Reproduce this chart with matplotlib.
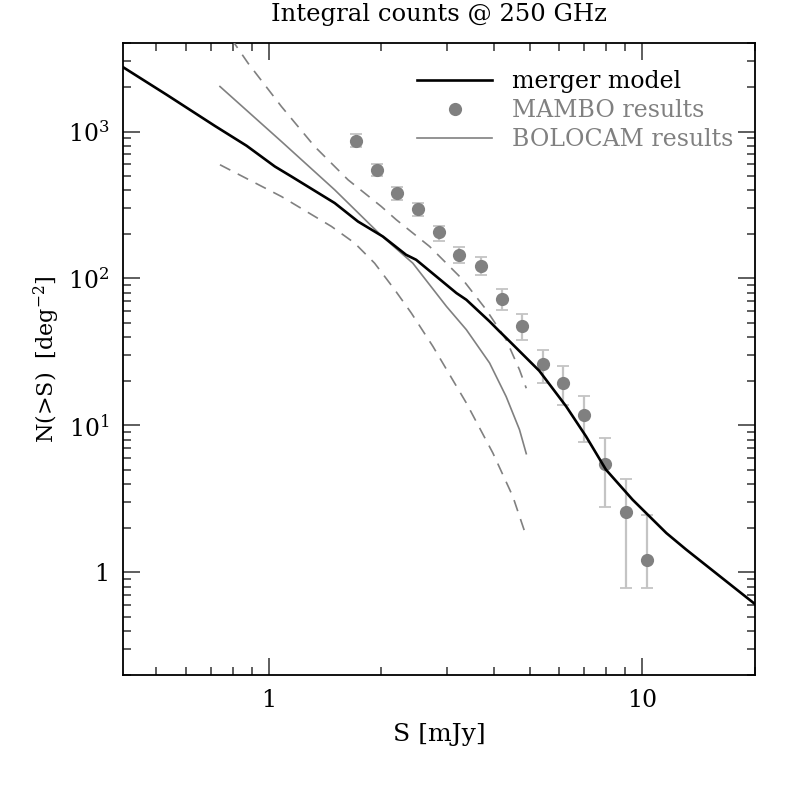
import math
import matplotlib
matplotlib.use("Agg")
import matplotlib.pyplot as plt
from matplotlib.ticker import FixedLocator, LogLocator, NullFormatter, FuncFormatter

plt.rcParams['font.family'] = 'DejaVu Serif'
plt.rcParams['mathtext.fontset'] = 'dejavuserif'

# merger model (black curve)
model_s = [0.407, 0.533, 0.717, 0.872, 1.038, 1.15, 1.501, 1.733, 2.02, 2.33, 2.48,
           3.18, 3.38, 3.90, 4.15, 4.32, 5.30, 6.25, 7.07, 7.99, 9.42, 11.6, 13.1, 20.0]
model_n = [2742, 1778, 1092, 800, 578, 494, 326, 244, 193, 145, 134,
           79.5, 71.6, 51, 43.5, 39.4, 23.5, 13.5, 8.41, 5.0, 3.12, 1.85, 1.43, 0.61]

# MAMBO points with error bars
mambo_s = [1.71, 1.95, 2.21, 2.51, 2.85, 3.24, 3.69, 4.20, 4.77, 5.43, 6.15, 7.0, 7.95, 9.04, 10.3]
mambo_n = [868, 549, 379, 297, 206, 145, 121, 72.8, 47.5, 26.0, 19.4, 11.8, 5.49, 2.56, 1.22]
mambo_hi = [965, 603, 422, 324, 227, 163, 140, 85.1, 57.3, 32.7, 25.2, 15.9, 8.2, 4.34, 2.44]
mambo_lo = [787, 497, 341, 267, 180, 127, 106, 61.0, 38.3, 19.4, 13.8, 7.71, 2.77, 0.78, 0.78]

# BOLOCAM best fit and its bounds
bolo_s = [0.74, 1.081, 1.501, 2.0, 2.43, 2.99, 3.38, 3.90, 4.32, 4.69, 4.89]
bolo_n = [2024, 855, 401, 196, 127, 64.5, 44.8, 26.6, 15.7, 9.35, 6.42]
bolo_up_s = [0.74, 0.803, 0.880, 1.081, 1.327, 1.630, 2.0, 2.194, 2.695, 3.308, 3.82, 4.32, 4.69, 4.89]
bolo_up_n = [5600, 4093, 2917, 1479, 790, 469, 309, 251, 165, 98, 61.3, 38.3, 23.9, 17.9]
bolo_lo_s = [0.74, 1.081, 1.471, 1.698, 1.920, 2.173, 2.407, 2.75, 3.38, 3.98, 4.50, 4.84]
bolo_lo_n = [594, 361, 226, 174, 127, 83.8, 58.2, 34.5, 14.2, 6.49, 3.29, 1.90]

fig = plt.figure(figsize=(7.97, 7.97), dpi=100)
ax = fig.add_axes([0.1543, 0.153, 0.7927, 0.793])

grey = '#808080'
ax.plot(model_s, model_n, color='black', lw=1.9, label='merger model', zorder=4)

yerr = [[n - lo for n, lo in zip(mambo_n, mambo_lo)],
        [hi - n for n, hi in zip(mambo_n, mambo_hi)]]
ax.errorbar(mambo_s, mambo_n, yerr=yerr, fmt='none', ecolor='#c4c4c4',
            elinewidth=1.6, capsize=4.3, capthick=1.3, zorder=2)
ax.plot(mambo_s, mambo_n, 'o', color=grey, ms=9.5, mec='none',
        label='MAMBO results', zorder=3)

ax.plot(bolo_s, bolo_n, color=grey, lw=1.2, label='BOLOCAM results', zorder=3)
ax.plot(bolo_up_s, bolo_up_n, color=grey, lw=1.2, dashes=(7, 5), zorder=3)
ax.plot(bolo_lo_s, bolo_lo_n, color=grey, lw=1.2, dashes=(7, 5), zorder=3)

ax.set_xscale('log')
ax.set_yscale('log')
ax.set_xlim(0.407, 20)
ax.set_ylim(0.2, 4000)

ax.xaxis.set_major_locator(FixedLocator([1, 10]))
ax.xaxis.set_major_formatter(FuncFormatter(lambda v, p: f"{v:g}"))
ax.xaxis.set_minor_locator(LogLocator(base=10, subs=range(2, 10)))
ax.xaxis.set_minor_formatter(NullFormatter())


def ylab(v, p):
    if v == 1:
        return "1"
    return r"$10^{%d}$" % int(round(math.log10(v)))


ax.yaxis.set_major_locator(FixedLocator([1, 10, 100, 1000]))
ax.yaxis.set_major_formatter(FuncFormatter(ylab))
ax.yaxis.set_minor_locator(LogLocator(base=10, subs=range(2, 10)))
ax.yaxis.set_minor_formatter(NullFormatter())

ax.tick_params(which='both', direction='in', top=True, right=True, width=1.1,
               color='#333333', labelsize=17)
ax.tick_params(which='major', length=12, pad=10)
ax.tick_params(which='minor', length=6)
for sp in ax.spines.values():
    sp.set_linewidth(1.3)

ax.set_title('Integral counts @ 250 GHz', fontsize=17.5, pad=16)
ax.set_xlabel('S [mJy]', fontsize=18, labelpad=8)
ax.set_ylabel(r'N(>S)  [deg$^{-2}$]', fontsize=16, labelpad=4)

leg = ax.legend(loc='upper left', frameon=False, fontsize=17, handlelength=3.2,
                handletextpad=0.85, labelspacing=0.25, borderaxespad=0, borderpad=0,
                bbox_to_anchor=(0.465, 0.957))
for txt, c in zip(leg.get_texts(), ['black', grey, grey]):
    txt.set_color(c)

fig.savefig('out.png', dpi=100)
